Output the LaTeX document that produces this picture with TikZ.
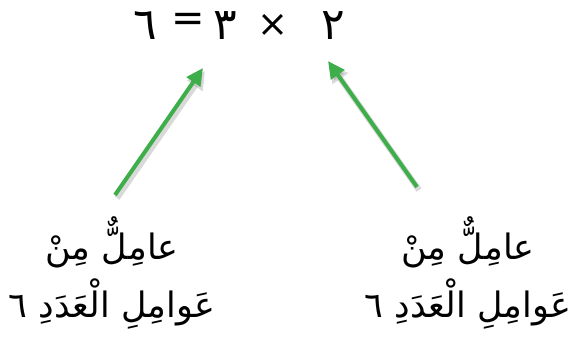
\documentclass[tikz,border=0pt]{standalone}
\usepackage{fontspec}
\usetikzlibrary{arrows.meta}
\TeXXeTstate=1
\newfontfamily\arabicfont[Script=Arabic]{DejaVu Sans}
\newfontfamily\symbfont{DejaVu Sans}
\definecolor{garrowcol}{HTML}{3DAE49}
\tikzset{
  digit/.style={inner sep=0pt, font=\arabicfont\fontsize{44}{44}\selectfont},
  eqsym/.style={inner sep=0pt, font=\symbfont\fontsize{40}{40}\selectfont},
  timessym/.style={inner sep=0pt, font=\symbfont\fontsize{37}{37}\selectfont},
  lbl/.style={inner sep=0pt, align=center, font=\arabicfont\fontsize{35}{58}\selectfont},
  garrow/.style={draw=garrowcol, line width=4pt, -{Triangle[length=17pt,width=16pt]}},
  gshadow/.style={draw=black, opacity=0.15, line width=6pt, -{Triangle[length=18pt,width=18pt]}}
}
\begin{document}
\begin{tikzpicture}[x=1pt,y=-1pt]
\useasboundingbox (0,0) rectangle (580,339);
\node[digit] (n6) at (145,26) {٦};
\node[eqsym] (eq) at (188,22) {=};
\node[digit] (n3) at (225,26) {٣};
\node[timessym] (tm) at (273,25) {×};
\node[digit] (n2) at (333,26) {٢};
\node[lbl] (labL) at (112,273) {\beginR عامِلٌّ مِنْ\endR\\\beginR عَوامِلِ الْعَدَدِ ٦\endR};
\node[lbl] (labR) at (468,273) {\beginR عامِلٌّ مِنْ\endR\\\beginR عَوامِلِ الْعَدَدِ ٦\endR};
\coordinate (aLs) at (115,195);
\coordinate (aLe) at (203,68);
\coordinate (aRs) at (417,187);
\coordinate (aRe) at (328,61);
\draw[gshadow] ([shift={(2,3)}]aLs) -- ([shift={(2,3)}]aLe);
\draw[gshadow] ([shift={(2,3)}]aRs) -- ([shift={(2,3)}]aRe);
\draw[garrow] (aLs) -- (aLe);
\draw[garrow] (aRs) -- (aRe);
\end{tikzpicture}
\end{document}
